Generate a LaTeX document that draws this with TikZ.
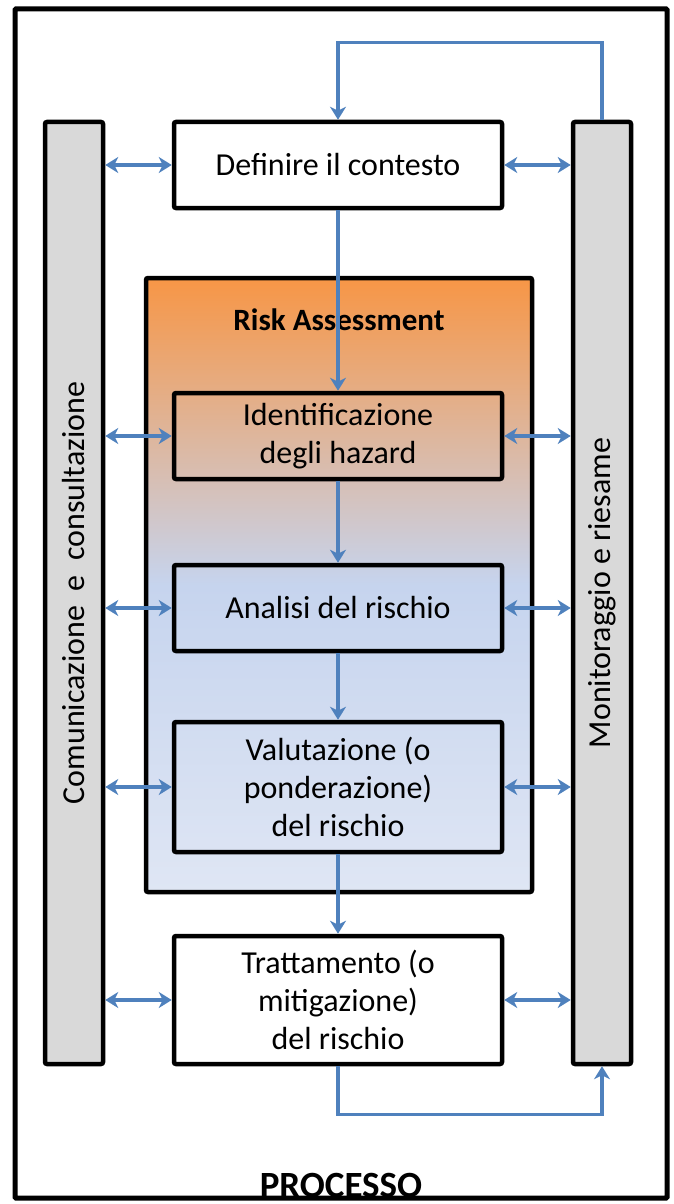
\documentclass[tikz,border=0pt]{standalone}
\usepackage{fontspec}
\setmainfont{Carlito}
\usetikzlibrary{arrows.meta, positioning}
\definecolor{arrowblue}{HTML}{4F81BD}
\definecolor{bargray}{HTML}{D9D9D9}
\definecolor{ratop}{HTML}{F79646}
\definecolor{ramid}{HTML}{C6D4EE}
\definecolor{rabottom}{HTML}{DFE6F4}
\tikzstyle{process} = [rectangle, rounded corners=2pt, minimum width=328pt, minimum height=86pt, align=center, draw=black, line width=4.5pt, font=\fontsize{32}{38}\selectfont]
\tikzstyle{bar} = [rectangle, rounded corners=2pt, minimum width=58pt, minimum height=942pt, draw=black, line width=4.5pt, fill=bargray]
\tikzstyle{bartext} = [rotate=90, font=\fontsize{32}{36}\selectfont]
\tikzstyle{arrow} = [line width=3.5pt, draw=arrowblue, -{Stealth[length=13pt,width=16pt,inset=4pt]}]
\tikzstyle{dblarrow} = [line width=3.5pt, draw=arrowblue, {Stealth[length=13pt,width=16pt,inset=4pt]}-{Stealth[length=13pt,width=16pt,inset=4pt]}]

\begin{document}
\begin{tikzpicture}[x=1pt, y=-1pt]
		\useasboundingbox (0,0) rectangle (673,1204);
		
		% Risk assessment area
		\node (risk) [rectangle, rounded corners=2pt, minimum width=386pt, minimum height=614pt, draw=black, line width=4.5pt, top color=ratop, bottom color=rabottom, middle color=ramid] at (339,585) {};
		\node (risktitle) [font=\fontsize{31}{34}\selectfont\bfseries] at (339,320) {Risk Assessment};
		
		% Nodes
		\node (contesto) [process, fill=white] at (338,165) {Definire il contesto};
		\node (identificazione) [process] at (338,436) {Identificazione\\degli hazard};
		\node (analisi) [process] at (338,608) {Analisi del rischio};
		\node (valutazione) [process, minimum height=130pt] at (338,787) {Valutazione (o\\ponderazione)\\del rischio};
		\node (trattamento) [process, minimum height=128pt, fill=white] at (338,1000) {Trattamento (o\\mitigazione)\\del rischio};
		
		\node (comunicazione) [bar] at (74,593) {};
		\node [bartext] at (comunicazione) {Comunicazione~~e~~consultazione};
		\node (monitoraggio) [bar] at (602,593) {};
		\node [bartext] at (monitoraggio) {Monitoraggio e riesame};
		
		% Arrows
		\draw [arrow] (contesto) -- (identificazione);
		\draw [arrow] (identificazione) -- (analisi);
		\draw [arrow] (analisi) -- (valutazione);
		\draw [arrow] (valutazione) -- (trattamento);
		
		\foreach \n in {contesto, identificazione, analisi, valutazione, trattamento} {
			\draw [dblarrow] (comunicazione.east |- \n.west) -- (\n.west);
			\draw [dblarrow] (\n.east) -- (monitoraggio.west |- \n.east);
		}
		
		% Loops
		\draw [arrow] (monitoraggio.north) -- ++(0,-77) -| (contesto.north);
		\draw [arrow] (trattamento.south) -- ++(0,48) -| (monitoraggio.south);
		
		% Frame
		\node (processo) [font=\fontsize{37}{40}\selectfont\bfseries, anchor=base] at (341,1197) {PROCESSO};
		\draw [line width=5pt, rounded corners=1pt] (15,9) rectangle (667,1198);
		
	\end{tikzpicture}
\end{document}
